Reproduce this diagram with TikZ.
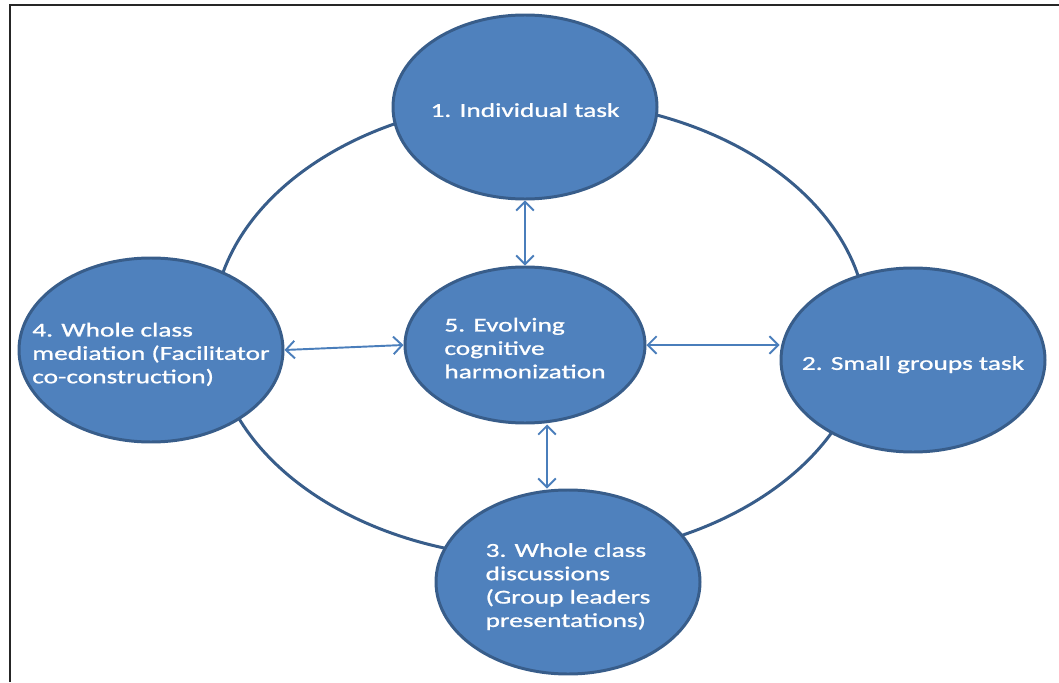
\documentclass[tikz,border=0pt]{standalone}
\usepackage{fontspec}
\setmainfont{Carlito}[FakeStretch=1.39,FakeBold=1]
\usetikzlibrary{arrows.meta,shapes.geometric}
\definecolor{stagefill}{RGB}{79,129,189}
\definecolor{stageline}{RGB}{56,93,138}
\definecolor{linkblue}{RGB}{74,126,187}
\newcommand{\stagetext}[1]{\makebox[0pt]{\raisebox{-2mm}[0pt][0pt]{\begin{tabular}{@{}l@{}}#1\end{tabular}}}}

\begin{document}
\begin{tikzpicture}[
    stage/.style={ellipse,draw=stageline,fill=stagefill,line width=1.7pt,
      minimum width=5.28cm,minimum height=3.68cm,inner sep=0pt,text=white,
      font=\fontsize{11.2}{13.3}\selectfont},
    hub/.style={stage,minimum width=4.8cm,minimum height=3.12cm},
    loopring/.style={draw=stageline,line width=1.7pt},
    frame/.style={draw=black!85,line width=1pt},
    link/.style={{Straight Barb[length=5pt,width=10pt]}-{Straight Barb[length=5pt,width=10pt]},
      draw=linkblue,line width=1.1pt}
  ]
    \useasboundingbox (0,0) rectangle (21.18,13.64);
    \draw[frame] (0.2,0) |- (21.18,13.54);

    % ring behind the four stages
    \coordinate (ringctr) at (10.80,7.06);
    \draw[loopring] (ringctr) ellipse [x radius=6.54cm,y radius=4.58cm];

    \node[stage] (task) at (10.50,11.50) {\stagetext{1. Individual task}};
    \node[stage] (groups) at (18.26,6.44) {\stagetext{2. Small groups task}};
    \node[stage] (discuss) at (11.36,2.00) {\stagetext{3. Whole class\\discussions\\(Group leaders\\presentations)}};
    \node[stage] (mediate) at (3.02,6.64) {\stagetext{4. Whole class\\mediation (Facilitator\\co-construction)}};
    \node[hub] (harmony) at (10.50,6.74) {\stagetext{5. Evolving\\cognitive\\harmonization}};

    \draw[link] (task) -- (harmony);
    \draw[link] (harmony.east) -- (harmony.east -| groups.west);
    \draw[link] ([xshift=4.4mm]harmony.south) -- ([xshift=-4.2mm]discuss.north);
    \draw[link] (mediate.east) -- (harmony.west);
  \end{tikzpicture}
\end{document}
